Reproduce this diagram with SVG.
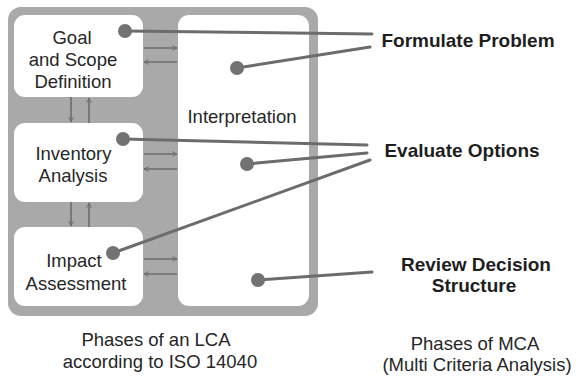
<svg xmlns="http://www.w3.org/2000/svg" width="576" height="379" viewBox="0 0 576 379">
<style>
.box{fill:#ffffff;}
.lbl{font-family:"Liberation Sans",Arial,sans-serif;font-size:18.5px;fill:#262626;text-anchor:middle;}
.blbl{font-family:"Liberation Sans",Arial,sans-serif;font-size:19px;font-weight:bold;fill:#1e1e1e;text-anchor:middle;}
.arr{stroke:#6c6c6c;stroke-width:1.6;fill:none;marker-end:url(#ah);}
.con{stroke:#6c6c6c;stroke-width:3;fill:none;stroke-linecap:round;}
.dot{fill:#727272;}
</style>
<defs>
<marker id="ah" viewBox="0 0 10 10" refX="9" refY="5" markerWidth="6" markerHeight="6" orient="auto" markerUnits="userSpaceOnUse">
<path d="M1,1 L9,5 L1,9" fill="none" stroke="#6c6c6c" stroke-width="1.6"/>
</marker>
</defs>
<rect x="0" y="0" width="576" height="379" fill="#ffffff"/>
<g id="lca-frame">
<rect x="8" y="7" width="310" height="309" rx="13" fill="#a9a9a9"/>
</g>
<g id="goal">
<rect class="box" x="14" y="15" width="129" height="82" rx="11"/>
<text class="lbl" x="72" y="44">Goal</text>
<text class="lbl" x="73" y="66">and Scope</text>
<text class="lbl" x="73" y="88">Definition</text>
</g>
<g id="inventory">
<rect class="box" x="14" y="123" width="129" height="79" rx="11"/>
<text class="lbl" x="73.5" y="160">Inventory</text>
<text class="lbl" x="73" y="182">Analysis</text>
</g>
<g id="impact">
<rect class="box" x="14" y="227" width="129" height="79" rx="11"/>
<text class="lbl" x="74" y="267">Impact</text>
<text class="lbl" x="76" y="290">Assessment</text>
</g>
<g id="interpretation">
<rect class="box" x="178" y="15" width="131" height="291" rx="11"/>
<text class="lbl" x="242" y="123">Interpretation</text>
</g>
<g id="lca-arrows">
<line class="arr" x1="144" y1="48" x2="177" y2="48"/>
<line class="arr" x1="177" y1="62" x2="144" y2="62"/>
<line class="arr" x1="144" y1="154" x2="177" y2="154"/>
<line class="arr" x1="177" y1="169" x2="144" y2="169"/>
<line class="arr" x1="144" y1="259" x2="177" y2="259"/>
<line class="arr" x1="177" y1="274" x2="144" y2="274"/>
<line class="arr" x1="71" y1="97" x2="71" y2="122"/>
<line class="arr" x1="89" y1="123" x2="89" y2="98"/>
<line class="arr" x1="71" y1="202" x2="71" y2="226"/>
<line class="arr" x1="89" y1="227" x2="89" y2="203"/>
</g>
<g id="formulate">
<text class="blbl" x="468" y="47">Formulate Problem</text>
</g>
<g id="evaluate">
<text class="blbl" x="462" y="157">Evaluate Options</text>
</g>
<g id="review">
<text class="blbl" x="476" y="271">Review Decision</text>
<text class="blbl" x="474" y="292">Structure</text>
</g>
<g id="connectors">
<line class="con" x1="125" y1="31" x2="372" y2="34"/>
<line class="con" x1="237" y1="68" x2="370" y2="47"/>
<line class="con" x1="123" y1="139" x2="367" y2="145"/>
<line class="con" x1="247" y1="164" x2="367" y2="153"/>
<line class="con" x1="113" y1="253" x2="370" y2="160"/>
<line class="con" x1="258" y1="280" x2="372" y2="272"/>
<circle class="dot" cx="125" cy="31" r="7"/>
<circle class="dot" cx="237" cy="68" r="7"/>
<circle class="dot" cx="123" cy="139" r="7"/>
<circle class="dot" cx="247" cy="164" r="7"/>
<circle class="dot" cx="113" cy="253" r="7"/>
<circle class="dot" cx="258" cy="280" r="7"/>
</g>
<g id="captions">
<text class="lbl" x="156" y="346">Phases of an LCA</text>
<text class="lbl" x="160" y="368">according to ISO 14040</text>
<text class="lbl" x="475" y="350">Phases of MCA</text>
<text class="lbl" x="477" y="371">(Multi Criteria Analysis)</text>
</g>
</svg>
